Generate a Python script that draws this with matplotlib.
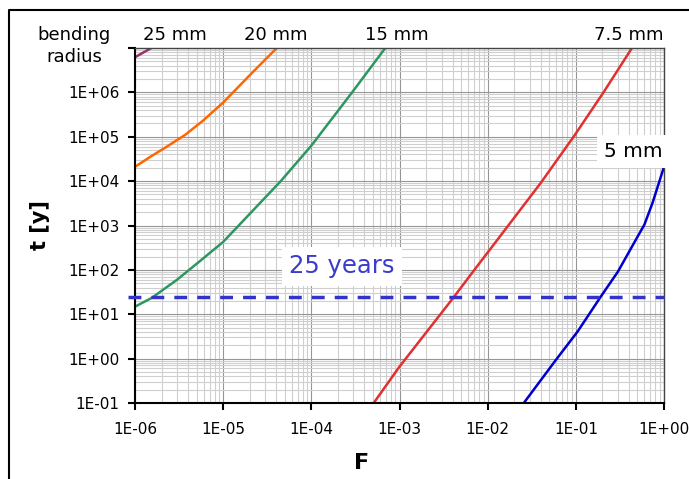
import matplotlib
matplotlib.use('Agg')
import matplotlib.pyplot as plt
from matplotlib.ticker import FixedLocator, FixedFormatter, LogLocator, NullFormatter
from matplotlib.lines import Line2D

# --- data (F vs lifetime t in years) ---
f_25mm = [1.0e-6, 1.6e-6]
t_25mm = [6.2e6, 1.05e7]

f_20mm = [1.0e-6, 1.48e-6, 2.3e-6, 3.7e-6, 5.9e-6, 1.0e-5, 2.2e-5, 4.1e-5]
t_20mm = [2.1e4, 3.5e4, 6.0e4, 1.1e5, 2.3e5, 5.9e5, 2.95e6, 1.02e7]

f_15mm = [1.0e-6, 1.55e-6, 3.0e-6, 5.5e-6, 1.0e-5, 4.5e-5, 1.0e-4, 2.9e-4, 6.9e-4]
t_15mm = [14.8, 23.4, 60, 160, 427, 1.0e4, 6.3e4, 1.0e6, 1.0e7]

f_75mm = [5.1e-4, 1.0e-3, 4.0e-3, 7.2e-3, 1.35e-2, 4.0e-2, 9.5e-2, 0.206, 0.433]
t_75mm = [0.1, 0.66, 22.4, 105, 537, 9.1e3, 1.02e5, 1.0e6, 1.0e7]

f_5mm = [0.0257, 0.0593, 0.105, 0.192, 0.30, 0.48, 0.60, 0.74, 1.0]
t_5mm = [0.1, 0.93, 4.1, 25, 91, 480, 1050, 3200, 2.1e4]

target_years = 25

x_ticks = [1e-6, 1e-5, 1e-4, 1e-3, 1e-2, 1e-1, 1e0]
x_labels = ['1E-06', '1E-05', '1E-04', '1E-03', '1E-02', '1E-01', '1E+00']
y_ticks = [1e-1, 1e0, 1e1, 1e2, 1e3, 1e4, 1e5, 1e6, 1e7]
y_labels = ['1E-01', '1E+00', '1E+01', '1E+02', '1E+03', '1E+04', '1E+05', '1E+06', '']

W, H = 689, 479
fig = plt.figure(figsize=(W / 100, H / 100), dpi=100)
ax = fig.add_axes([135 / W, 1 - 403 / H, 529 / W, 355 / H])

def fx(px):
    return px / W

def fy(py):
    return 1 - py / H

# curves
ax.plot(f_25mm, t_25mm, color='#993366', lw=1.8)
ax.plot(f_20mm, t_20mm, color='#ff6600', lw=1.8)
ax.plot(f_15mm, t_15mm, color='#2e9660', lw=1.8)
ax.plot(f_75mm, t_75mm, color='#e03030', lw=1.8)
ax.plot(f_5mm, t_5mm, color='#0000cc', lw=1.8)

# 25 years line
ax.axhline(target_years, xmin=-0.013, xmax=1.0, color='#3333cc', lw=2.5,
           dashes=(3.7, 2.9), clip_on=False, zorder=3)

ax.set_xscale('log')
ax.set_yscale('log')
ax.set_xlim(1e-6, 1)
ax.set_ylim(1e-1, 1e7)

ax.xaxis.set_major_locator(FixedLocator(x_ticks))
ax.xaxis.set_major_formatter(FixedFormatter(x_labels))
ax.yaxis.set_major_locator(FixedLocator(y_ticks))
ax.yaxis.set_major_formatter(FixedFormatter(y_labels))
ax.xaxis.set_minor_locator(LogLocator(base=10, subs=range(2, 10), numticks=20))
ax.yaxis.set_minor_locator(LogLocator(base=10, subs=range(2, 10), numticks=20))
ax.xaxis.set_minor_formatter(NullFormatter())
ax.yaxis.set_minor_formatter(NullFormatter())

ax.grid(which='major', color='#969696', lw=0.8)
ax.grid(which='minor', color='#cfcfcf', lw=0.8)
ax.set_axisbelow(True)

ax.tick_params(which='major', direction='out', length=5, width=1.5, labelsize=11, color='black')
ax.tick_params(axis='y', which='major', pad=6)
ax.tick_params(axis='x', which='major', pad=9)
ax.tick_params(which='minor', length=0)

for side in ['left', 'bottom']:
    ax.spines[side].set_linewidth(1.5)
    ax.spines[side].set_color('black')
for side in ['top', 'right']:
    ax.spines[side].set_linewidth(1.0)
    ax.spines[side].set_color('#444444')

# axis labels
fig.text(fx(40), fy(225), 't [y]', rotation=90, fontsize=15, fontweight='bold',
         ha='center', va='center')
fig.text(fx(362), fy(469), 'F', fontsize=16, fontweight='bold', ha='center', va='baseline')

# curve labels
fig.text(fx(74), fy(40), 'bending', fontsize=13, ha='center', va='baseline')
fig.text(fx(74), fy(61.7), 'radius', fontsize=13, ha='center', va='baseline')
fig.text(fx(175), fy(40), '25 mm', fontsize=13, ha='center', va='baseline')
fig.text(fx(276), fy(40), '20 mm', fontsize=13, ha='center', va='baseline')
fig.text(fx(397), fy(40), '15 mm', fontsize=13, ha='center', va='baseline')
fig.text(fx(663), fy(40), '7.5 mm', fontsize=13, ha='right', va='baseline')
fig.text(fx(633), fy(156.7), '5 mm', fontsize=14.5, ha='center', va='baseline', zorder=5,
         bbox=dict(boxstyle='square,pad=0.35', fc='white', ec='none'))
fig.text(fx(342), fy(273.3), '25 years', fontsize=17.5, color='#3b3bcc', ha='center',
         va='baseline', zorder=5,
         bbox=dict(boxstyle='square,pad=0.3', fc='white', ec='none'))

# outer frame (left and top edges)
fig.add_artist(Line2D([fx(9), fx(9), 1.0], [0.0, fy(10), fy(10)], color='black', lw=1.5))

fig.savefig('out.png', dpi=100)
